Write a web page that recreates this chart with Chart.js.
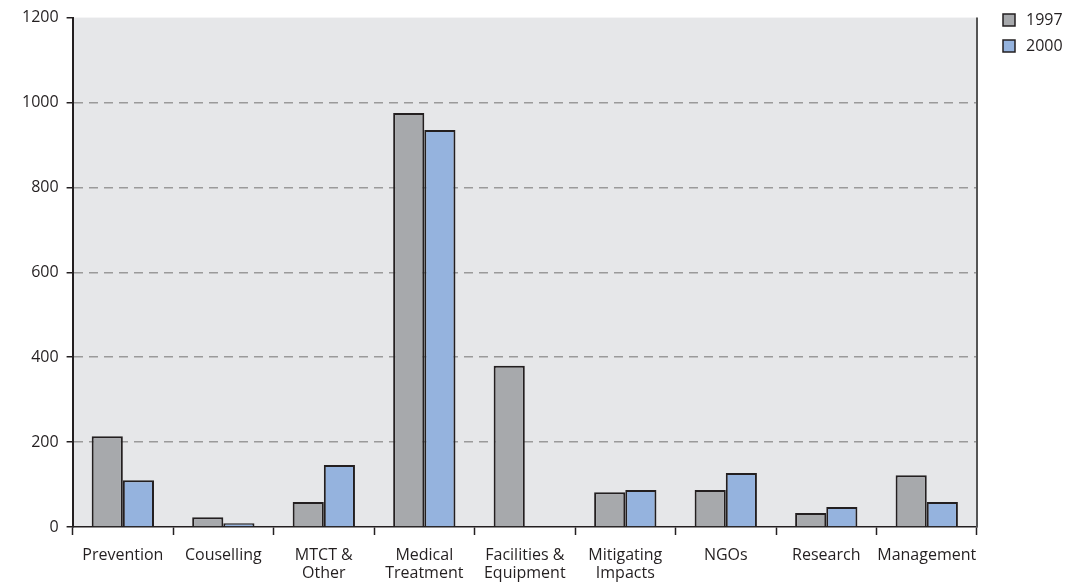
<!DOCTYPE html>
<html>
<head>
<meta charset="utf-8">
<script src="https://cdn.jsdelivr.net/npm/chart.js@4"></script>
<style>
  html, body { margin: 0; padding: 0; background: #fff; }
  #wrap { width: 1070px; height: 582px; }
</style>
</head>
<body>
<div id="wrap"><canvas id="mycanvas"></canvas></div>
<script>
var categories = [
	"Prevention", "Couselling", ["MTCT &", "Other"], ["Medical", "Treatment"],
	["Facilities &", "Equipment"], ["Mitigating", "Impacts"], "NGOs", "Research", "Management"
];
var values1997 = [214, 23, 59, 975, 380, 82, 87, 33, 122];
var values2000 = [110, 9, 146, 935, null, 87, 127, 47, 59];
var yTicks = [0, 200, 400, 600, 800, 1000, 1200];

var ink = '#231f20';

// grey plot background, right edge line and the legend on the right
var frame = {
	id: 'frame',
	beforeDraw: function(chart) {
		var a = chart.chartArea, ctx = chart.ctx;
		ctx.save();
		ctx.fillStyle = '#e6e7e9';
		ctx.fillRect(a.left, a.top, a.right - a.left, a.bottom - a.top);
		ctx.restore();
	},
	afterDraw: function(chart) {
		var a = chart.chartArea, ctx = chart.ctx;
		ctx.save();
		ctx.strokeStyle = '#555';
		ctx.lineWidth = 2;
		ctx.beginPath();
		ctx.moveTo(a.right, a.top);
		ctx.lineTo(a.right, a.bottom);
		ctx.stroke();

		ctx.font = '16px "Open Sans"';
		ctx.textBaseline = 'middle';
		ctx.textAlign = 'left';
		chart.data.datasets.forEach(function(ds, i) {
			var x = a.right + 26, y = 14 + i * 26;
			ctx.fillStyle = ds.backgroundColor;
			ctx.fillRect(x, y, 12, 12);
			ctx.strokeStyle = ink;
			ctx.lineWidth = 1.5;
			ctx.strokeRect(x, y, 12, 12);
			ctx.fillStyle = ink;
			ctx.fillText(ds.label, x + 23, y + 6);
		});
		ctx.restore();
	}
};

var ctx = document.getElementById('mycanvas');
new Chart(ctx, {
	type: 'bar',
	data: {
		labels: categories,
		datasets: [
			{
				label: '1997',
				backgroundColor: '#a7a9ac',
				borderColor: ink,
				borderWidth: 2,
				data: values1997
			},
			{
				label: '2000',
				backgroundColor: '#95b3de',
				borderColor: ink,
				borderWidth: 2,
				data: values2000
			}
		]
	},
	options: {
		responsive: true,
		maintainAspectRatio: false,
		animation: false,
		layout: { padding: { top: 16, left: 14, right: 93, bottom: 0 } },
		datasets: { bar: { categoryPercentage: 0.62, barPercentage: 1 } },
		plugins: {
			legend: { display: false },
			tooltip: { enabled: false }
		},
		scales: {
			x: {
				offset: true,
				afterFit: function(axis) { axis.height = 55; },
				grid: {
					offset: true,
					drawOnChartArea: false,
					drawTicks: true,
					tickLength: 8,
					tickWidth: 1.5,
					tickColor: ink
				},
				border: { color: ink, width: 1.5 },
				ticks: {
					color: ink,
					maxRotation: 0,
					autoSkip: false,
					padding: 12,
					font: { family: 'Open Sans', size: 16, lineHeight: 1.1 }
				}
			},
			y: {
				min: 0,
				max: 1200,
				afterBuildTicks: function(axis) {
					axis.ticks = yTicks.map(function(v) { return { value: v }; });
				},
				grid: {
					color: function(c) {
						return (c.tick && (c.tick.value === 0 || c.tick.value === 1200)) ? 'rgba(0,0,0,0)' : '#9a9a9a';
					},
					lineWidth: 1.5,
					tickColor: ink,
					tickLength: 6,
					tickWidth: 1.5,
					tickBorderDash: []
				},
				border: { color: ink, width: 2, dash: [9, 6] },
				ticks: {
					color: ink,
					padding: 8,
					font: { family: 'Open Sans', size: 16 },
					callback: function(v) { return String(v); }
				}
			}
		}
	},
	plugins: [frame]
});
</script>
</body>
</html>
